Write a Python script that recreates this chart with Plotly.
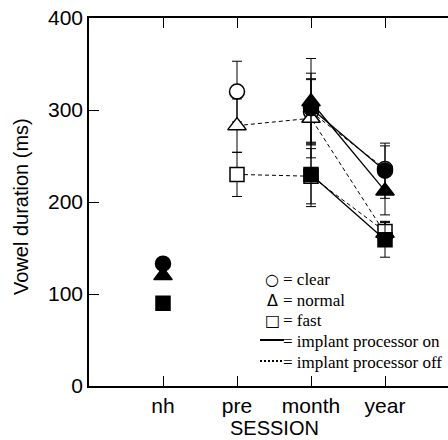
import plotly.graph_objects as go

sessions = ["nh", "pre", "month", "year"]
session_pos = [1, 2, 3, 4]

# normal-hearing reference values (filled, no lines)
nh_clear, nh_normal, nh_fast = 133, 120, 90

# processor off (open markers)
pre_clear, pre_clear_err = 320, 33          # pre clear: not connected
off_clear_x = [3, 4]
off_clear = [298, 236]
off_clear_err = [35, 25]
off_x = [2, 3, 4]
off_normal = [283, 291, 166]
off_fast = [230, 228, 168]
off_normal_err = [29, 43, 13]
off_fast_err = [24, 30, 10]

# processor on (filled markers): month, year
on_x = [3, 4]
on_clear = [302, 234]
on_normal = [309, 212]
on_fast = [230, 159]
on_clear_err = [38, 30]
on_normal_err = [47, 26]
on_fast_err = [35, 19]

W, H = 448, 440
L, R, T, B = 89, 0, 18, 54
PW, PH = W - L - R, H - T - B


def px(x):
    return (x - L) / PW


def py(y):
    return (H - B - y) / PH


fig = go.Figure()

sym = {"clear": ("circle", 15), "normal": ("triangle-up", 16), "fast": ("square", 14)}


def add(xs, ys, errs, cond, filled, line):
    s, sz = sym[cond]
    fig.add_trace(go.Scatter(
        x=xs, y=ys, mode="lines+markers" if line else "markers",
        line=dict(color="black", width=1.3 if line == "solid" else 1,
                  dash="solid" if line == "solid" else "4px,3px"),
        marker=dict(symbol=s, size=sz, color="black" if filled else "white",
                    line=dict(color="black", width=1.5)),
        error_y=dict(type="data", array=errs, visible=True, color="black",
                     thickness=1, width=5),
        showlegend=False, cliponaxis=False))


add([2], [pre_clear], [pre_clear_err], "clear", False, None)
add(off_clear_x, off_clear, off_clear_err, "clear", False, "dash")
add(off_x, off_normal, off_normal_err, "normal", False, "dash")
add(off_x, off_fast, off_fast_err, "fast", False, "dash")
add(on_x, on_clear, on_clear_err, "clear", True, "solid")
add(on_x, on_normal, on_normal_err, "normal", True, "solid")
add(on_x, on_fast, on_fast_err, "fast", True, "solid")
add([1], [nh_clear], [0], "clear", True, None)
add([1], [nh_normal], [0], "normal", True, None)
add([1], [nh_fast], [0], "fast", True, None)

fig.update_layout(
    width=W, height=H, margin=dict(l=L, r=R, t=T, b=B),
    paper_bgcolor="white", plot_bgcolor="white",
    font=dict(family="Liberation Sans, Arial, sans-serif", size=20, color="black"),
    xaxis=dict(range=[0, PW / 74], tickvals=session_pos, ticktext=sessions,
               ticks="inside", ticklen=10, tickwidth=1, tickcolor="black",
               showline=True, linecolor="black", linewidth=1.5, mirror="ticks",
               showgrid=False, zeroline=False, tickfont=dict(size=21)),
    yaxis=dict(range=[0, 400], tickvals=[0, 100, 200, 300, 400],
               ticks="inside", ticklen=10, tickwidth=1, tickcolor="black",
               showline=True, linecolor="black", linewidth=1.5,
               showgrid=False, zeroline=False, tickfont=dict(size=21)),
)

ann = []
ann.append(dict(text="Vowel duration (ms)", x=px(21), y=py(207), xref="paper", yref="paper",
                textangle=-90, showarrow=False, xanchor="center", yanchor="middle",
                font=dict(size=20)))
ann.append(dict(text="SESSION", x=px(274), y=py(428), xref="paper", yref="paper",
                showarrow=False, xanchor="center", yanchor="middle", font=dict(size=20)))

serif = dict(family="Liberation Serif, Times New Roman, serif", size=17, color="black")
symfont = dict(family="DejaVu Sans, sans-serif", size=16, color="black")
legend_rows = [("○", "= clear", 279), ("Δ", "= normal", 300), ("□", "= fast", 320),
               (None, "= implant processor on", 341), (None, "= implant processor off", 362)]
for s, t, y in legend_rows:
    if s:
        ann.append(dict(text=s, x=px(272), y=py(y), xref="paper", yref="paper",
                        showarrow=False, xanchor="center", yanchor="middle", font=symfont))
    ann.append(dict(text=t, x=px(281), y=py(y), xref="paper", yref="paper",
                    showarrow=False, xanchor="left", yanchor="middle", font=serif))
fig.update_layout(annotations=ann)
fig.add_shape(type="line", xref="paper", yref="paper", x0=px(260), x1=px(284),
              y0=py(340), y1=py(340), line=dict(color="black", width=2))
fig.add_shape(type="line", xref="paper", yref="paper", x0=px(260), x1=px(284),
              y0=py(361), y1=py(361), line=dict(color="black", width=2, dash="2px,2px"))

fig.write_html("out.html")
